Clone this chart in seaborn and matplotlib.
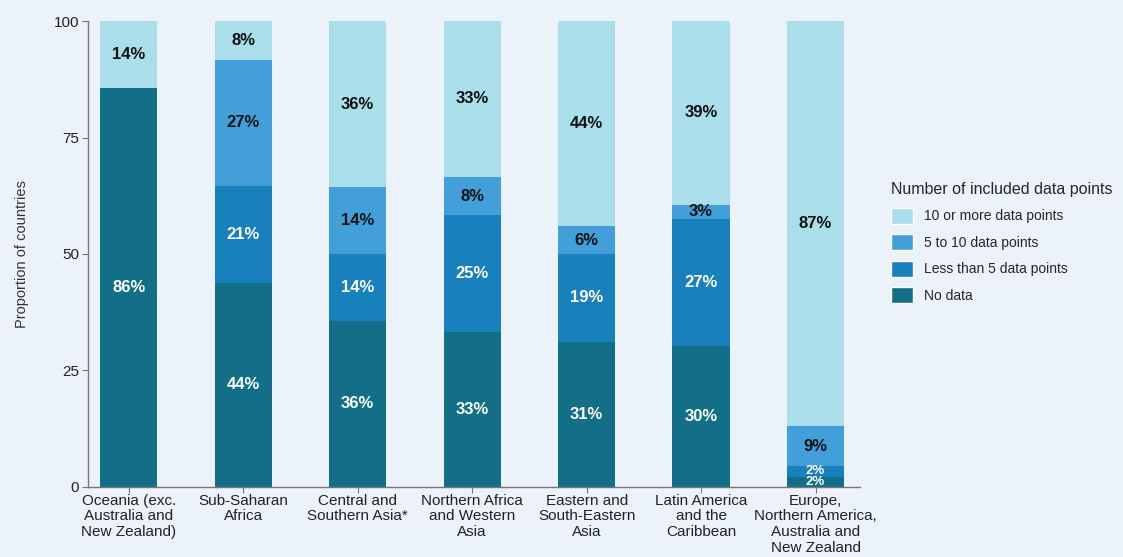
import numpy as np
import pandas as pd
import matplotlib
matplotlib.use('Agg')
import matplotlib.pyplot as plt
import seaborn as sns
from matplotlib.patches import Patch

# --- data ---
regions = ["Oceania (exc.\nAustralia and\nNew Zealand)", "Sub-Saharan\nAfrica",
           "Central and\nSouthern Asia*", "Northern Africa\nand Western\nAsia",
           "Eastern and\nSouth-Eastern\nAsia", "Latin America\nand the\nCaribbean",
           "Europe,\nNorthern America,\nAustralia and\nNew Zealand"]
no_data   = [85.7, 43.8, 35.7, 33.3, 31.1, 30.3, 2.2]
less_5    = [0.0, 20.8, 14.3, 25.0, 18.9, 27.3, 2.2]
five_10   = [0.0, 27.1, 14.3, 8.3, 6.0, 3.0, 8.7]
ten_more  = [14.3, 8.3, 35.7, 33.4, 44.0, 39.4, 86.9]

series_names = ["No data", "Less than 5 data points", "5 to 10 data points", "10 or more data points"]
series_vals = [no_data, less_5, five_10, ten_more]
colors = ["#136f88", "#1880bd", "#439fd9", "#a9deea"]
text_colors = ["white", "white", "#111111", "#111111"]

bg = "#ebf2fa"
sns.set_theme(style="white")
plt.rcParams['font.family'] = ['Liberation Sans', 'DejaVu Sans']

fig, ax = plt.subplots(figsize=(11.23, 5.57), dpi=100)
fig.patch.set_facecolor(bg)
ax.set_facecolor(bg)
fig.subplots_adjust(left=0.078, right=0.766, top=0.962, bottom=0.126)

bottom = np.zeros(len(regions))
for name, vals, col, tcol in zip(series_names, series_vals, colors, text_colors):
    df = pd.DataFrame({"region": regions, "value": vals})
    sns.barplot(data=df, x="region", y="value", order=regions, color=col,
                bottom=bottom, width=0.5, saturation=1, ax=ax, linewidth=0)
    for i, v in enumerate(vals):
        if v <= 0:
            continue
        fs = 9.5 if v < 3 else 12
        ax.text(i, bottom[i] + v / 2, f"{round(v)}%", ha="center", va="center",
                color=tcol, fontsize=fs, fontweight="bold")
    bottom = bottom + np.array(vals)

ax.set_xlim(-0.36, 6.39)
ax.set_ylim(0, 100)
ax.set_yticks([0, 25, 50, 75, 100])
ax.set_xlabel("")
ax.set_ylabel("Proportion of countries", fontsize=10.5, color="#333333", labelpad=18)
ax.tick_params(axis='both', which='both', length=4, width=0.8, color="#777777",
               labelsize=11, labelcolor="#222222", left=True, bottom=True, pad=2)
ax.tick_params(axis='x', labelsize=11, pad=1)
for s in ["top", "right"]:
    ax.spines[s].set_visible(False)
for s in ["left", "bottom"]:
    ax.spines[s].set_color("#777777")
    ax.spines[s].set_linewidth(1)
for lbl in ax.get_xticklabels():
    lbl.set_linespacing(1.15)

handles = [Patch(facecolor=c, label=n) for c, n in zip(colors[::-1], series_names[::-1])]
leg = fig.legend(handles=handles, loc="upper left", bbox_to_anchor=(0.782, 0.695),
                 frameon=False, title="Number of included data points",
                 fontsize=10, title_fontsize=11.5, handlelength=1.6, handleheight=1.4,
                 labelspacing=0.75, alignment="left")

fig.savefig("out.png", dpi=100, facecolor=bg)
